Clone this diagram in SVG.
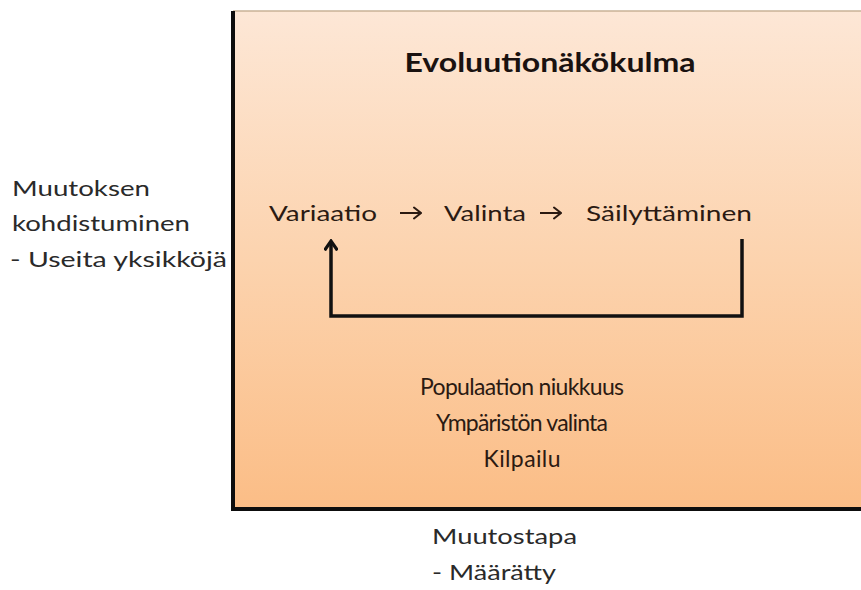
<svg xmlns="http://www.w3.org/2000/svg" width="861" height="590" viewBox="0 0 861 590">
  <defs>
    <linearGradient id="panelFill" x1="0" y1="0" x2="0" y2="1">
      <stop offset="0" stop-color="#fde7d6"/>
      <stop offset="0.5" stop-color="#fcd3ae"/>
      <stop offset="1" stop-color="#fbbd86"/>
    </linearGradient>
    <!-- open chevron head, drawn along +x so orient="auto" follows the line -->
    <marker id="openHead" viewBox="0 0 12 14" refX="10" refY="7" markerWidth="12" markerHeight="14" markerUnits="userSpaceOnUse" orient="auto">
      <path d="M2 1.5 L10 7 L2 12.5" fill="none" stroke="#111" stroke-width="3.2" stroke-linecap="square" stroke-linejoin="miter"/>
    </marker>
    <marker id="smallHead" viewBox="0 0 10 14" refX="9" refY="7" markerWidth="10" markerHeight="14" markerUnits="userSpaceOnUse" orient="auto">
      <path d="M2 1.5 L9 7 L2 12.5" fill="none" stroke="#2b1a12" stroke-width="2" stroke-linecap="round" stroke-linejoin="miter"/>
    </marker>
    <filter id="soft" x="-5%" y="-50%" width="110%" height="200%">
      <feGaussianBlur stdDeviation="1.2"/>
    </filter>
  </defs>
  <style>
    .t { font-family: Lato, "Open Sans", "Liberation Sans", sans-serif; font-size: 22px; fill: #2a2a2a; }
    .in { fill: #2b1a12; }
    .big { font-size: 23px; }
    .title { font-weight: bold; font-size: 27px; fill: #1a1210; }
    .c { text-anchor: middle; }
    .edge { fill: none; stroke: #111; stroke-width: 3.5; }
    .step { fill: none; stroke: #2b1a12; stroke-width: 2; }
    .frame { fill: none; stroke: #0d0d0d; stroke-width: 4; }
  </style>

  <rect width="861" height="590" fill="#ffffff"/>

  <!-- panel -->
  <g id="panel">
    <path d="M234 512 L870 512" stroke="#b8bcc2" stroke-width="4" filter="url(#soft)"/>
    <rect x="233" y="11" width="640" height="498" fill="url(#panelFill)"/>
    <line x1="233" y1="11" x2="861" y2="11" stroke="#c9b296" stroke-width="1.5"/>
    <path class="frame" d="M233 11 L233 509 L861 509"/>
    <text class="t title c" x="550" y="72" textLength="291" lengthAdjust="spacingAndGlyphs">Evoluutionäkökulma</text>
  </g>

  <!-- process steps -->
  <g id="variaatio">
    <text class="t in" x="269" y="221" textLength="108" lengthAdjust="spacingAndGlyphs">Variaatio</text>
  </g>
  <g id="valinta">
    <text class="t in" x="444" y="221" textLength="82" lengthAdjust="spacingAndGlyphs">Valinta</text>
  </g>
  <g id="sailyttaminen">
    <text class="t in" x="586" y="221" textLength="166" lengthAdjust="spacingAndGlyphs">Säilyttäminen</text>
  </g>

  <!-- connectors -->
  <g id="connectors">
    <path class="step" d="M400 213 L421 213" marker-end="url(#smallHead)"/>
    <path class="step" d="M540 213 L561 213" marker-end="url(#smallHead)"/>
    <path class="edge" d="M742 239 L742 316 L331 316 L331 241" marker-end="url(#openHead)"/>
  </g>

  <!-- conditions -->
  <g id="conditions">
    <text class="t in big c" x="522" y="395" textLength="204" lengthAdjust="spacing">Populaation niukkuus</text>
    <text class="t in big c" x="522" y="431" textLength="172" lengthAdjust="spacing">Ympäristön valinta</text>
    <text class="t in big c" x="522" y="467" textLength="77" lengthAdjust="spacing">Kilpailu</text>
  </g>

  <!-- axis labels -->
  <g id="target-label">
    <text class="t" x="12" y="196" textLength="138" lengthAdjust="spacingAndGlyphs">Muutoksen</text>
    <text class="t" x="12" y="231" textLength="178" lengthAdjust="spacingAndGlyphs">kohdistuminen</text>
    <text class="t" x="10" y="267" textLength="217" lengthAdjust="spacingAndGlyphs">- Useita yksikköjä</text>
  </g>
  <g id="mode-label">
    <text class="t" x="432" y="544" textLength="145" lengthAdjust="spacingAndGlyphs">Muutostapa</text>
    <text class="t" x="432" y="580" textLength="124" lengthAdjust="spacingAndGlyphs">- Määrätty</text>
  </g>
</svg>
